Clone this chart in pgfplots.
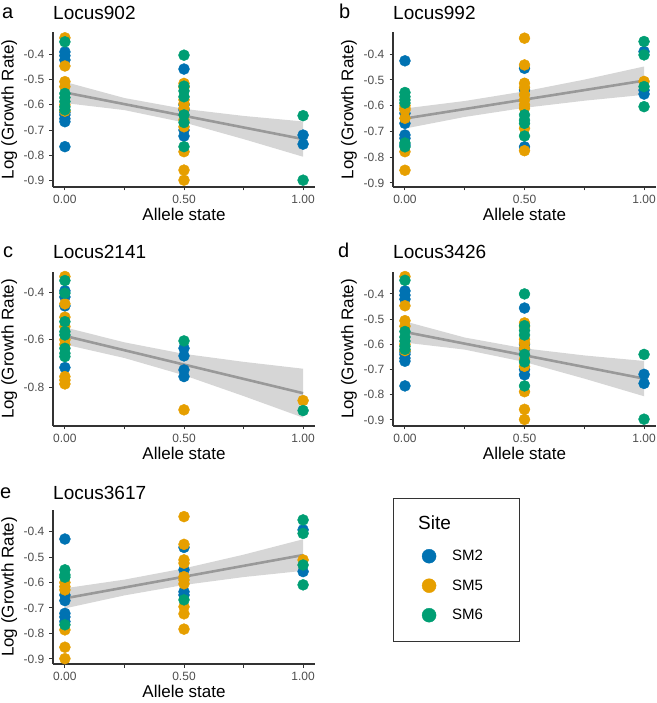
\documentclass[border=0pt]{standalone}
\usepackage{fontspec}
\setmainfont{Liberation Sans}
\usepackage{pgfplots}
\pgfplotsset{compat=1.18}

\definecolor{smtwo}{HTML}{0072B2}
\definecolor{smfive}{HTML}{E69F00}
\definecolor{smsix}{HTML}{009E73}
\definecolor{axisgrey}{HTML}{333333}
\definecolor{tickgrey}{HTML}{4D4D4D}

\newcommand{\tickfont}{\fontsize{12}{13}\selectfont}

\pgfplotsset{
  locus/.style={
    scale only axis, width=262pt, height=155pt,
    xmin=-0.05, xmax=1.05,
    axis x line*=bottom, axis y line*=left,
    axis line style={axisgrey, line width=1.1pt, -},
    tick align=outside, major tick length=3.5pt,
    tick style={axisgrey, line width=1pt},
    /pgf/number format/assume math mode=true,
    xtick={0,0.25,0.5,0.75,1},
    xticklabels={\tickfont 0.00,,\tickfont 0.50,,\tickfont 1.00},
    xticklabel style={font=\tickfont, text=tickgrey, inner sep=0pt, yshift=-4pt},
    yticklabel style={font=\tickfont, text=tickgrey, inner sep=0pt, xshift=-5pt},
    xlabel={Allele state}, ylabel={Log (Growth Rate)},
    label style={font=\fontsize{17}{19}\selectfont, text=black},
    xlabel style={at={(axis description cs:0.5,-0.135)}, anchor=north, inner sep=0pt},
    ylabel style={at={(axis description cs:-0.198,0.5)}, anchor=north, inner sep=0pt},
    title style={font=\fontsize{19}{21}\selectfont, at={(axis description cs:0,1)},
                 anchor=base west, inner sep=0pt},
    clip=false,
  },
  ytenth/.style={ytick={-0.9,-0.8,-0.7,-0.6,-0.5,-0.4},
                 yticklabels={\tickfont -0.9,\tickfont -0.8,\tickfont -0.7,
                              \tickfont -0.6,\tickfont -0.5,\tickfont -0.4}},
  pts/.style={only marks, mark=*, mark size=5.5pt, color=#1,
              mark options={draw=none, fill=#1}},
  band/.style={fill=black!40, fill opacity=0.4, draw=none, forget plot},
  fit/.style={black!40, line width=2.6pt, no marks, forget plot},
}

\begin{document}
\begin{tikzpicture}[x=1pt, y=1pt]
\useasboundingbox (0,0) rectangle (656,703);

% ---------------- a: Locus902 ----------------
\begin{axis}[locus, ytenth, at={(53pt,671pt)}, anchor=north west,
  ymin=-0.926, ymax=-0.311, title={Locus902}, title style={yshift=6.3pt}]
\addplot[pts=smtwo] coordinates {
  (0,-0.390) (0,-0.405) (0,-0.422) (0,-0.630) (0,-0.640) (0,-0.655) (0,-0.667) (0,-0.766)
  (0.5,-0.458) (0.5,-0.600) (0.5,-0.620) (0.5,-0.700) (0.5,-0.724)
  (1,-0.720) (1,-0.756)};
\addplot[pts=smfive] coordinates {
  (0,-0.334) (0,-0.446) (0,-0.508) (0,-0.528) (0,-0.600) (0,-0.625)
  (0.5,-0.515) (0.5,-0.530) (0.5,-0.580) (0.5,-0.595) (0.5,-0.614) (0.5,-0.660)
  (0.5,-0.687) (0.5,-0.786) (0.5,-0.859) (0.5,-0.899)};
\addplot[pts=smsix] coordinates {
  (0,-0.350) (0,-0.555) (0,-0.571) (0,-0.587) (0,-0.608) (0,-0.620)
  (0.5,-0.403) (0.5,-0.526) (0.5,-0.545) (0.5,-0.568) (0.5,-0.640) (0.5,-0.670) (0.5,-0.766)
  (1,-0.643) (1,-0.899)};
\addplot[band] coordinates {(0,-0.509) (0.25,-0.573) (0.5,-0.616) (0.75,-0.644) (1,-0.666)
  (1,-0.806) (0.75,-0.736) (0.5,-0.670) (0.25,-0.621) (0,-0.593)} -- cycle;
\addplot[fit] coordinates {(0,-0.551) (1,-0.736)};
\end{axis}

% ---------------- b: Locus992 ----------------
\begin{axis}[locus, ytenth, width=263pt, at={(393pt,671pt)}, anchor=north west,
  ymin=-0.916, ymax=-0.314, title={Locus992}, title style={yshift=6.3pt}]
\addplot[pts=smtwo] coordinates {
  (0,-0.426) (0,-0.630) (0,-0.669) (0,-0.714) (0,-0.727) (0,-0.753)
  (0.5,-0.455) (0.5,-0.539) (0.5,-0.760)
  (1,-0.390) (1,-0.540) (1,-0.555)};
\addplot[pts=smfive] coordinates {
  (0,-0.600) (0,-0.610) (0,-0.617) (0,-0.649) (0,-0.779) (0,-0.851)
  (0.5,-0.338) (0.5,-0.442) (0.5,-0.513) (0.5,-0.529) (0.5,-0.558) (0.5,-0.578)
  (0.5,-0.597) (0.5,-0.610) (0.5,-0.688) (0.5,-0.775)
  (1,-0.506)};
\addplot[pts=smsix] coordinates {
  (0,-0.549) (0,-0.565) (0,-0.578) (0,-0.590) (0,-0.745) (0,-0.760)
  (0.5,-0.636) (0.5,-0.656) (0.5,-0.669) (0.5,-0.718)
  (1,-0.351) (1,-0.403) (1,-0.526) (1,-0.604)};
\addplot[band] coordinates {(0,-0.611) (0.25,-0.582) (0.5,-0.5445) (0.75,-0.499) (1,-0.448)
  (1,-0.558) (0.75,-0.581) (0.5,-0.6085) (0.25,-0.644) (0,-0.689)} -- cycle;
\addplot[fit] coordinates {(0,-0.650) (1,-0.503)};
\end{axis}

% ---------------- c: Locus2141 ----------------
\begin{axis}[locus, height=154pt, at={(53pt,431pt)}, anchor=north west,
  ymin=-0.963, ymax=-0.315, ytick={-0.8,-0.6,-0.4},
  yticklabels={\tickfont -0.8,\tickfont -0.6,\tickfont -0.4},
  title={Locus2141}, title style={yshift=7.4pt}]
\addplot[pts=smtwo] coordinates {
  (0,-0.394) (0,-0.420) (0,-0.458) (0,-0.717)
  (0.5,-0.636) (0.5,-0.668) (0.5,-0.727) (0.5,-0.755)};
\addplot[pts=smfive] coordinates {
  (0,-0.334) (0,-0.449) (0,-0.505) (0,-0.545) (0,-0.600) (0,-0.620)
  (0,-0.755) (0,-0.770) (0,-0.786)
  (0.5,-0.895)
  (1,-0.856)};
\addplot[pts=smsix] coordinates {
  (0,-0.351) (0,-0.404) (0,-0.524) (0,-0.566) (0,-0.580) (0,-0.636) (0,-0.657) (0,-0.671)
  (0.5,-0.605)
  (1,-0.898)};
\addplot[band] coordinates {(0,-0.548) (0.25,-0.611) (0.5,-0.6595) (0.75,-0.693) (1,-0.722)
  (1,-0.928) (0.75,-0.837) (0.5,-0.7495) (0.25,-0.677) (0,-0.620)} -- cycle;
\addplot[fit] coordinates {(0,-0.584) (1,-0.825)};
\end{axis}

% ---------------- d: Locus3426 ----------------
\begin{axis}[locus, ytenth, width=263pt, height=154pt, at={(393pt,431pt)}, anchor=north west,
  ymin=-0.924, ymax=-0.313, title={Locus3426}, title style={yshift=7.4pt}]
\addplot[pts=smtwo] coordinates {
  (0,-0.388) (0,-0.405) (0,-0.421) (0,-0.630) (0,-0.640) (0,-0.655) (0,-0.667) (0,-0.765)
  (0.5,-0.456) (0.5,-0.600) (0.5,-0.620) (0.5,-0.700) (0.5,-0.721)
  (1,-0.719) (1,-0.755)};
\addplot[pts=smfive] coordinates {
  (0,-0.331) (0,-0.447) (0,-0.506) (0,-0.528) (0,-0.600) (0,-0.625)
  (0.5,-0.515) (0.5,-0.530) (0.5,-0.580) (0.5,-0.595) (0.5,-0.616) (0.5,-0.660)
  (0.5,-0.687) (0.5,-0.788) (0.5,-0.858) (0.5,-0.898)};
\addplot[pts=smsix] coordinates {
  (0,-0.346) (0,-0.549) (0,-0.571) (0,-0.587) (0,-0.608) (0,-0.620)
  (0.5,-0.400) (0.5,-0.526) (0.5,-0.545) (0.5,-0.563) (0.5,-0.640) (0.5,-0.670) (0.5,-0.765)
  (1,-0.640) (1,-0.897)};
\addplot[band] coordinates {(0,-0.509) (0.25,-0.573) (0.5,-0.616) (0.75,-0.644) (1,-0.666)
  (1,-0.806) (0.75,-0.736) (0.5,-0.670) (0.25,-0.621) (0,-0.593)} -- cycle;
\addplot[fit] coordinates {(0,-0.551) (1,-0.736)};
\end{axis}

% ---------------- e: Locus3617 ----------------
\begin{axis}[locus, ytenth, height=154pt, at={(53pt,193pt)}, anchor=north west,
  ymin=-0.920, ymax=-0.315, title={Locus3617}, title style={yshift=4.7pt},
  legend cell align=left,
  legend image post style={mark size=7pt},
  legend style={at={(axis description cs:1.408,0.797)}, anchor=north west,
    draw=none, fill=none, inner sep=0pt, row sep=0pt, column sep=16pt,
    font=\fontsize{15}{17}\selectfont,
    nodes={inner sep=0pt, minimum height=29.5pt}}]
\addplot[pts=smtwo] coordinates {
  (0,-0.429) (0,-0.649) (0,-0.671) (0,-0.721) (0,-0.735) (0,-0.753)
  (0.5,-0.462) (0.5,-0.550) (0.5,-0.636) (0.5,-0.649)
  (1,-0.393) (1,-0.557)};
\addplot[pts=smfive] coordinates {
  (0,-0.600) (0,-0.616) (0,-0.629) (0,-0.786) (0,-0.854) (0,-0.899)
  (0.5,-0.341) (0.5,-0.450) (0.5,-0.511) (0.5,-0.524) (0.5,-0.577) (0.5,-0.590)
  (0.5,-0.605) (0.5,-0.695) (0.5,-0.723) (0.5,-0.783)
  (1,-0.511)};
\addplot[pts=smsix] coordinates {
  (0,-0.550) (0,-0.570) (0,-0.579) (0,-0.766)
  (0.5,-0.668)
  (1,-0.354) (1,-0.407) (1,-0.531) (1,-0.609)};
\addplot[band] coordinates {(0,-0.6225) (0.25,-0.5885) (0.5,-0.5445) (0.75,-0.4905) (1,-0.430)
  (1,-0.554) (0.75,-0.5785) (0.5,-0.6095) (0.25,-0.6505) (0,-0.7015)} -- cycle;
\addplot[fit] coordinates {(0,-0.662) (1,-0.492)};
\legend{SM2,SM5,SM6}
\end{axis}

% panel letters
\begin{scope}[every node/.style={font=\fontsize{20}{22}\selectfont, inner sep=0pt, anchor=base west}]
\node at (2,684) {a};
\node at (339,684) {b};
\node at (3,445) {c};
\node at (338,445) {d};
\node at (0,204) {e};
\end{scope}

% legend frame and title
\draw[axisgrey, line width=1pt] (393,204) rectangle (519,61);
\node[anchor=west, inner sep=0pt, font=\fontsize{19}{21}\selectfont] at (418,180) {Site};
\end{tikzpicture}
\end{document}
